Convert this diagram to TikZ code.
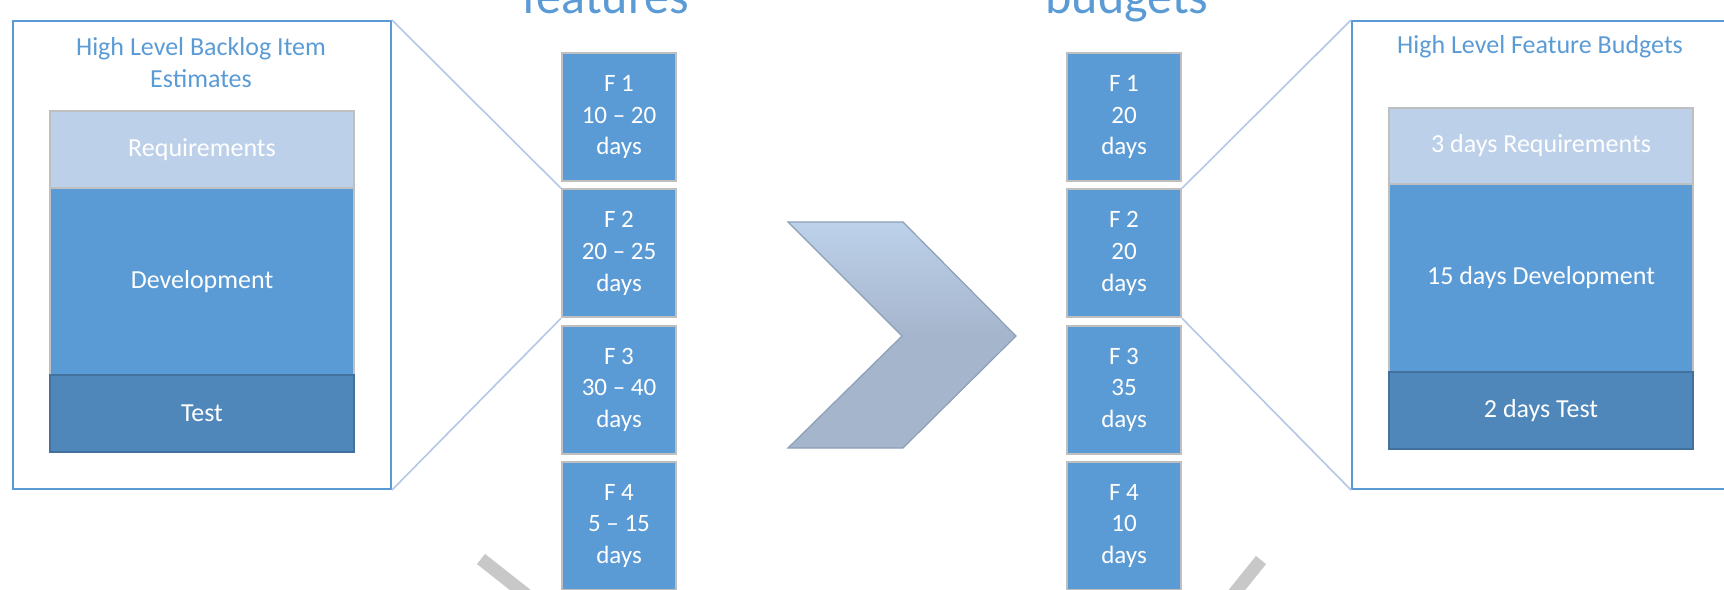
\documentclass[tikz,border=0pt]{standalone}
\usepackage{fontspec}
\setmainfont{Carlito}
\definecolor{boxblue}{HTML}{5B9BD5}
\definecolor{reqblue}{HTML}{BDD0E9}
\definecolor{testblue}{HTML}{4F87BA}
\definecolor{testedge}{HTML}{41719C}
\definecolor{boxedge}{HTML}{BFBFBF}
\definecolor{zoomline}{HTML}{B4C7E7}
\definecolor{chevtop}{HTML}{BDD1EA}
\definecolor{chevbot}{HTML}{A5B5CC}
\definecolor{chevedge}{HTML}{8C9FB8}
\definecolor{bargray}{HTML}{C8C8C8}
\tikzset{
feat/.style={draw=boxedge, line width=1pt, fill=boxblue, text=white, align=center, minimum width=57pt, minimum height=64pt, inner sep=0pt, anchor=north west, font=\fontsize{12.5}{15.8}\selectfont},
part/.style={draw=boxedge, line width=1pt, fill=boxblue, text=white, minimum width=152pt, inner sep=0pt, anchor=north west, font=\fontsize{13}{16}\selectfont},
panel/.style={draw=boxblue, line width=1pt, minimum width=189pt, minimum height=234pt, inner sep=0pt, anchor=north west},
zoomlink/.style={zoomline, line width=0.8pt},
ptitle/.style={text=boxblue, align=center, font=\fontsize{13}{16}\selectfont},
bigtitle/.style={text=boxblue, anchor=base, font=\fontsize{25}{30}\selectfont}
}
\begin{document}
\begin{tikzpicture}[x=0.5pt,y=-0.5pt]
\useasboundingbox (0,0) rectangle (1724,589);
\clip (0,0) rectangle (1724,589);
\node[bigtitle] (festitle) at (606,13) {features};
\node[bigtitle] (budtitle) at (1127,13) {budgets};
\node[panel] (lpanel) at (12,20) {};
\node[panel] (rpanel) at (1351,20) {};
\node[ptitle] (ltitle) at (201,63) {High Level Backlog Item\\Estimates};
\node[ptitle] (rtitle) at (1540,47) {High Level Feature Budgets};
\node[part, minimum height=93.5pt] (ldev) at (49,187) {Development};
\node[part, fill=reqblue, minimum height=38.5pt] (lreq) at (49,110) {Requirements};
\node[part, fill=testblue, draw=testedge, minimum height=38.5pt] (ltest) at (49,374) {Test};
\node[part, minimum height=94pt] (rdev) at (1388,183) {15 days Development};
\node[part, fill=reqblue, minimum height=38pt] (rreq) at (1388,107) {3 days Requirements};
\node[part, fill=testblue, draw=testedge, minimum height=38.5pt] (rtest) at (1388,371) {2 days Test};
\foreach \i/\est/\bud in {1/10 -- 20/20, 2/20 -- 25/20, 3/30 -- 40/35, 4/5 -- 15/10}{
\node[feat] (ef\i) at (561,{52+136.3*(\i-1)}) {F \i\\\est\\days};
\node[feat] (bf\i) at (1066,{52+136.3*(\i-1)}) {F \i\\\bud\\days};
}
\draw[zoomlink] (lpanel.north east) -- (ef2.north west);
\draw[zoomlink] (lpanel.south east) -- (ef2.south west);
\draw[zoomlink] (bf2.north east) -- (rpanel.north west);
\draw[zoomlink] (bf2.south east) -- (rpanel.south west);
\draw[chevedge, line width=0.6pt, top color=chevtop, bottom color=chevbot, middle color=chevbot] (788,222) -- (903,222) -- (1016,336) -- (903,448) -- (788,448) -- (902,336) -- cycle;
\draw[bargray, line width=6.5pt] (481,559) -- (533,600);
\draw[bargray, line width=6.5pt] (1261,560) -- (1220,611);
\end{tikzpicture}
\end{document}
